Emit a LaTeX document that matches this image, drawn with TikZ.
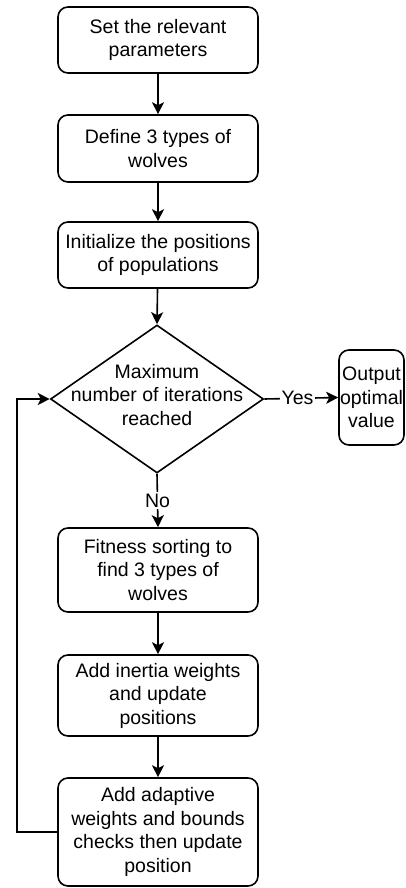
\documentclass[tikz,border=0pt]{standalone}
\usepackage{fontspec}
\setmainfont{Liberation Sans}
\usetikzlibrary{shapes.geometric, arrows.meta}

\tikzset{
  stepbox/.style={draw, thick, rounded corners=5pt, minimum width=100pt, inner sep=1pt, align=center, font=\fontsize{9.75}{11.75}\selectfont},
  decision/.style={draw, thick, diamond, inner sep=0pt, minimum width=106.5pt, minimum height=74pt},
  flow/.style={-{Stealth[length=6pt, width=6pt, inset=1.5pt]}, thick}
}

\begin{document}
\begin{tikzpicture}[x=.5pt, y=-.5pt]
\def\cx{158}

\useasboundingbox (0,0) rectangle (406,888);

\node[stepbox, minimum height=33pt] (set) at (\cx,40) {Set the relevant\\parameters};
\node[stepbox, minimum height=33.5pt] (define) at (\cx,148.5) {Define 3 types of\\wolves};
\node[stepbox, minimum height=33pt] (init) at (\cx,255) {Initialize the positions\\of populations};

\node[decision] (maxit) at (157,399) {};
\node[align=center, font=\fontsize{9.75}{11.75}\selectfont] (maxittext) at (157,395) {Maximum\\number of iterations\\reached};

\node[stepbox, minimum width=32.5pt, minimum height=47.5pt, inner sep=0pt] (out) at (371.5,397.5) {Output\\optimal\\value};

\node[stepbox, minimum height=42pt] (fitness) at (\cx,570) {Fitness sorting to\\find 3 types of\\wolves};
\node[stepbox, minimum height=40.5pt] (inertia) at (\cx,695.5) {Add inertia weights\\and update\\positions};
\node[stepbox, minimum height=54pt] (adaptive) at (\cx,832) {Add adaptive\\weights and bounds\\checks then update\\position};

%%%%%%%%%%%%%-------------arrows
\draw[flow] (set) -- (define);
\draw[flow] (define) -- (init);
\draw[flow] (init) -- (maxit.north);
\draw[flow] (maxit.east) -- node[pos=.45, fill=white, inner sep=1pt, font=\fontsize{9.75}{11.75}\selectfont]{Yes} (out.west);
\draw[flow] (maxit.south) -- node[fill=white, inner sep=1pt, font=\fontsize{9.75}{11.75}\selectfont]{No} (fitness.north);
\draw[flow] (fitness) -- (inertia);
\draw[flow] (inertia) -- (adaptive);

%%%%%%%%%%%%%-------------loop back
\coordinate (loopx) at (17,0);
\draw[flow] (adaptive.west) -- (adaptive.west -| loopx) |- (maxit.west);

\end{tikzpicture}
\end{document}
